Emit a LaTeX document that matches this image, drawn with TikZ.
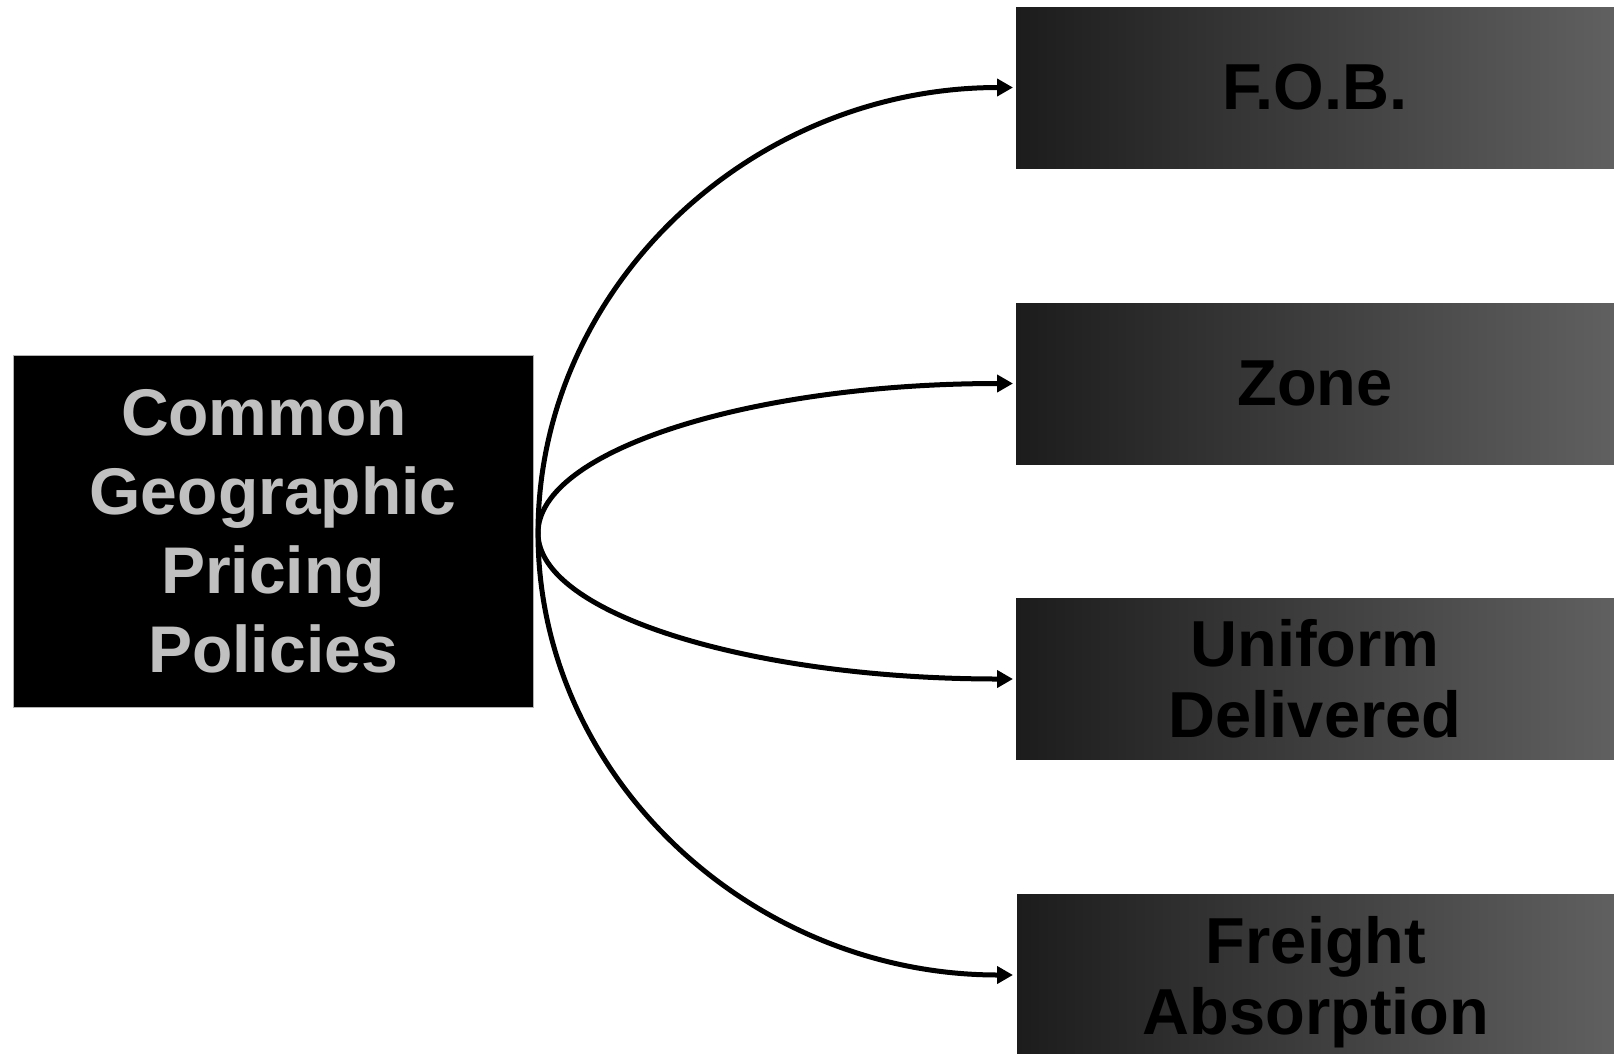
\documentclass[tikz,border=0pt]{standalone}
\usepackage{fontspec}
\setmainfont{Liberation Sans}
\usetikzlibrary{arrows.meta}

\definecolor{boxleft}{HTML}{1C1C1C}
\definecolor{boxright}{HTML}{606060}
\definecolor{labelgray}{HTML}{C0C0C0}

% keep a line's descender out of the node's height
\newcommand{\nodescent}[1]{\raisebox{0pt}[\height][0pt]{#1}}

\tikzset{
  hubbox/.style={rectangle, fill=black, draw=gray!60, line width=0.8pt,
    inner sep=0pt, outer sep=0pt, minimum width=520pt, minimum height=352pt,
    text=labelgray, align=center,
    font=\fontsize{66}{79}\selectfont\bfseries},
  policy/.style={rectangle, inner sep=0pt, outer sep=0pt,
    minimum width=598pt, minimum height=161pt,
    left color=boxleft, right color=boxright,
    text=black, align=center,
    font=\fontsize{65}{71}\selectfont\bfseries},
  branch/.style={draw=black, line width=5pt, -{Triangle[length=16pt,width=17pt]}},
}

\begin{document}
\begin{tikzpicture}[x=1pt,y=-1pt]
  \useasboundingbox (0,0) rectangle (1614,1053);
  \fill[white] (0,0) rectangle (1614,1053);
  \clip (0,0) rectangle (1614,1053);

  % source box
  \node[hubbox] (hub) at (273,531) {Common\kern18pt\\Geographic\\Pricing\\Policies};

  % policy boxes
  \node[policy] (fob)     at (1315,87.5)  {F.O.B.};
  \node[policy] (zone)    at (1315,383.5) {Zone};
  \node[policy] (uniform) at (1315,679)   {Uniform\\Delivered};
  \node[policy] (freight) at (1316,975)   {Freight\\\nodescent{Absorption}};

  % common starting point of the branches, just right of the source box
  \coordinate (fork) at (538,533);

  % quarter-elliptic branches
  \draw[branch] (fork) .. controls +(0,-246) and +(-262,0) .. ([xshift=-3pt]fob.west);
  \draw[branch] (fork) .. controls +(0,-82.6) and +(-262,0) .. ([xshift=-3pt]zone.west);
  \draw[branch] (fork) .. controls +(0,80.6) and +(-262,0) .. ([xshift=-3pt]uniform.west);
  \draw[branch] (fork) .. controls +(0,243.8) and +(-262,0) .. ([xshift=-4pt]freight.west);
\end{tikzpicture}
\end{document}
